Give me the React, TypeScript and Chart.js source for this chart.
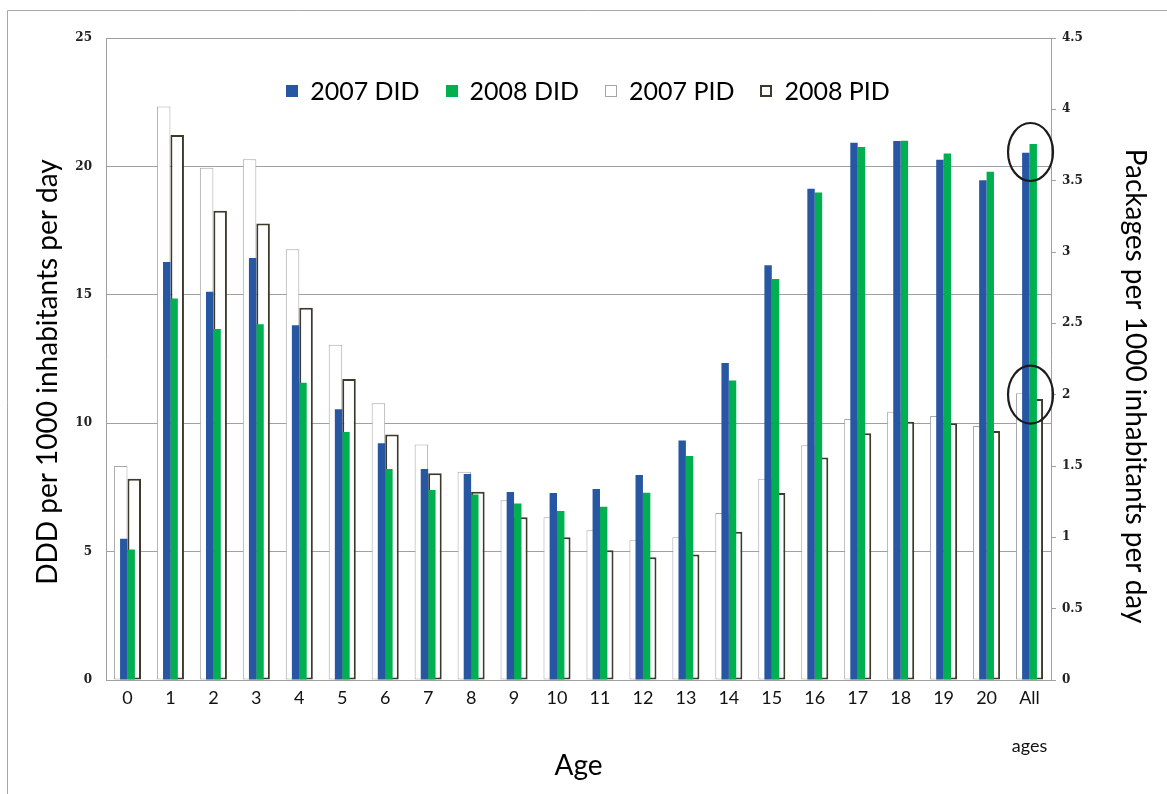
import React, { useEffect, useRef } from 'react';
import { Chart, registerables } from 'chart.js';

Chart.register(...registerables);

// Age groups on the category axis ("All ages" wraps onto a lower line)
const ageLabels: (string | string[])[] = [
  '0', '1', '2', '3', '4', '5', '6', '7', '8', '9', '10',
  '11', '12', '13', '14', '15', '16', '17', '18', '19', '20',
  ['All', '', 'ages'],
];

// DDD per 1000 inhabitants per day (left axis)
const did2007 = [
  5.50, 16.28, 15.12, 16.43, 13.81, 10.54, 9.22, 8.22, 8.02, 7.32, 7.28,
  7.44, 7.98, 9.33, 12.34, 16.15, 19.13, 20.92, 20.99, 20.26, 19.46, 20.53,
];
const did2008 = [
  5.08, 14.86, 13.67, 13.85, 11.58, 9.66, 8.22, 7.40, 7.22, 6.87, 6.58,
  6.75, 7.29, 8.72, 11.66, 15.62, 18.98, 20.76, 21.00, 20.50, 19.79, 20.87,
];

// Packages per 1000 inhabitants per day (right axis)
const pid2007 = [
  1.50, 4.02, 3.59, 3.65, 3.02, 2.35, 1.94, 1.65, 1.46, 1.26, 1.14,
  1.05, 0.98, 1.00, 1.17, 1.41, 1.645, 1.83, 1.88, 1.85, 1.78, 2.01,
];
const pid2008 = [
  1.41, 3.82, 3.29, 3.20, 2.61, 2.11, 1.72, 1.45, 1.32, 1.14, 1.00,
  0.91, 0.86, 0.88, 1.04, 1.31, 1.56, 1.73, 1.81, 1.80, 1.745, 1.97,
];

// Axis ranges
const dddMax = 25;
const dddStep = 5;
const pidMax = 4.5;
const pidStep = 0.5;

// Highlight rings around the "All ages" bars: [category index, value]
const ringOnDDD: [number, number] = [21, 20.56];
const ringOnPID: [number, number] = [21, 2.0];

const leftTitle = 'DDD per 1000 inhabitants per day';
const rightTitle = 'Packages per 1000 inhabitants per day';

const WIDTH = 1167;
const HEIGHT = 794;
const PLOT_LEFT = 106;
const PLOT_RIGHT = 1051;
const PLOT_TOP = 38;
const PLOT_BOTTOM = 680;

const BLUE = '#2756a2';
const GREEN = '#00b050';
const LIGHT_EDGE = '#a6a6a6';
const DARK_EDGE = '#3d3a2b';
const AXIS_GREY = '#a0a0a0';
const SANS = 'Lato, "Open Sans", "DejaVu Sans", sans-serif';
const SERIF = '"DejaVu Serif", "Liberation Serif", serif';

const framePlugin = {
  id: 'outerFrame',
  beforeDraw(chart: any) {
    const ctx = chart.ctx;
    ctx.save();
    ctx.fillStyle = '#ffffff';
    ctx.fillRect(0, 0, chart.width, chart.height);
    ctx.strokeStyle = '#a8a8a8';
    ctx.lineWidth = 1;
    ctx.beginPath();
    ctx.moveTo(7.5, chart.height);
    ctx.lineTo(7.5, 10.5);
    ctx.lineTo(chart.width, 10.5);
    ctx.stroke();
    ctx.restore();
  },
};

// Rotated value-axis titles on both sides
const sideTitlesPlugin = {
  id: 'sideTitles',
  afterDraw(chart: any) {
    const ctx = chart.ctx;
    ctx.save();
    ctx.fillStyle = '#000000';
    ctx.font = `28px ${SANS}`;
    ctx.textAlign = 'center';
    ctx.textBaseline = 'middle';

    ctx.save();
    ctx.translate(48, 372);
    ctx.rotate(-Math.PI / 2);
    ctx.fillText(leftTitle, 0, 0);
    ctx.restore();

    ctx.save();
    ctx.translate(1135, 386);
    ctx.rotate(Math.PI / 2);
    ctx.fillText(rightTitle, 0, 0);
    ctx.restore();

    ctx.restore();
  },
};

const insideLegendPlugin = {
  id: 'insideLegend',
  afterDraw(chart: any) {
    const ctx = chart.ctx;
    const box = 12;
    const textGap = 12;
    const itemGap = 26;
    const centerX = 588;
    const centerY = 91;
    ctx.save();
    ctx.font = `25px ${SANS}`;
    ctx.textBaseline = 'middle';
    ctx.textAlign = 'left';
    const items = chart.data.datasets.map((ds: any) => ({
      ds,
      w: ctx.measureText(ds.label).width,
    }));
    const total =
      items.reduce((s: number, it: any) => s + box + textGap + it.w, 0) +
      itemGap * (items.length - 1);
    let x = centerX - total / 2;
    for (const it of items) {
      const top = Math.round(centerY - box / 2);
      const left = Math.round(x);
      ctx.fillStyle = it.ds.backgroundColor;
      ctx.fillRect(left, top, box, box);
      if (it.ds.borderWidth) {
        const bw = it.ds.borderWidth;
        ctx.strokeStyle = it.ds.borderColor;
        ctx.lineWidth = bw;
        ctx.strokeRect(left + bw / 2, top + bw / 2, box - bw, box - bw);
      }
      ctx.fillStyle = '#000000';
      ctx.fillText(it.ds.label, x + box + textGap, centerY + 1);
      x += box + textGap + it.w + itemGap;
    }
    ctx.restore();
  },
};

const ringsPlugin = {
  id: 'highlightRings',
  afterDatasetsDraw(chart: any) {
    const ctx = chart.ctx;
    const xs = chart.scales.x;
    const rings = [
      { x: xs.getPixelForValue(ringOnDDD[0]), y: chart.scales.y.getPixelForValue(ringOnDDD[1]) },
      { x: xs.getPixelForValue(ringOnPID[0]), y: chart.scales.y2.getPixelForValue(ringOnPID[1]) },
    ];
    ctx.save();
    ctx.strokeStyle = '#1c1c1c';
    ctx.lineWidth = 2.2;
    for (const r of rings) {
      ctx.beginPath();
      ctx.ellipse(r.x + 1, r.y, 22.5, 29, 0, 0, Math.PI * 2);
      ctx.stroke();
    }
    ctx.restore();
  },
};

export default function App() {
  const canvasRef = useRef<HTMLCanvasElement | null>(null);

  useEffect(() => {
    let chart: Chart | null = null;
    let cancelled = false;

    const build = () => {
      if (cancelled || !canvasRef.current) return;
      // Slot "a" holds the 2007 bars and slot "b" the 2008 bars; the narrow
      // DDD bars sit over the wider, outlined package bars in each slot.
      chart = new Chart(canvasRef.current, {
        type: 'bar',
        data: {
          labels: ageLabels,
          datasets: [
            {
              label: '2007 DID',
              data: did2007,
              backgroundColor: BLUE,
              borderWidth: 0,
              stack: 'a',
              yAxisID: 'y',
              categoryPercentage: 0.345,
              barPercentage: 1,
            },
            {
              label: '2008 DID',
              data: did2008,
              backgroundColor: GREEN,
              borderWidth: 0,
              stack: 'b',
              yAxisID: 'y',
              categoryPercentage: 0.345,
              barPercentage: 1,
            },
            {
              label: '2007 PID',
              data: pid2007,
              backgroundColor: '#ffffff',
              borderColor: LIGHT_EDGE,
              borderWidth: 1,
              borderSkipped: false,
              stack: 'a',
              yAxisID: 'y2',
              categoryPercentage: 0.63,
              barPercentage: 1,
            },
            {
              label: '2008 PID',
              data: pid2008,
              backgroundColor: '#ffffff',
              borderColor: DARK_EDGE,
              borderWidth: 2,
              borderSkipped: false,
              stack: 'b',
              yAxisID: 'y2',
              categoryPercentage: 0.63,
              barPercentage: 1,
            },
          ] as any,
        },
        options: {
          responsive: false,
          animation: false,
          devicePixelRatio: 1,
          events: [],
          layout: { padding: { top: PLOT_TOP, left: 0, right: 0, bottom: 0 } },
          plugins: {
            legend: { display: false },
            tooltip: { enabled: false },
          },
          scales: {
            x: {
              type: 'category',
              position: 'bottom',
              offset: true,
              grid: { display: false, drawTicks: false, tickLength: 0 },
              border: { display: true, color: AXIS_GREY, width: 1 },
              ticks: {
                autoSkip: false,
                maxRotation: 0,
                minRotation: 0,
                padding: 6,
                color: '#111111',
                font: { family: SANS, size: 18, lineHeight: 24 / 18 },
              },
              title: {
                display: true,
                text: 'Age',
                color: '#000000',
                font: { family: SANS, size: 28 },
                padding: { top: 0, bottom: 11 },
              },
              afterFit(scale: any) {
                scale.height = HEIGHT - PLOT_BOTTOM;
              },
            },
            y: {
              type: 'linear',
              position: 'left',
              stacked: false,
              min: 0,
              max: dddMax,
              grid: { color: AXIS_GREY, lineWidth: 1, drawTicks: false },
              border: { display: true, color: AXIS_GREY, width: 1 },
              ticks: {
                stepSize: dddStep,
                padding: 14,
                color: '#222222',
                font: { family: SERIF, size: 12, weight: 'bold' },
              },
              afterFit(scale: any) {
                scale.width = PLOT_LEFT;
              },
            },
            y2: {
              type: 'linear',
              position: 'right',
              stacked: false,
              min: 0,
              max: pidMax,
              grid: {
                drawOnChartArea: false,
                drawTicks: true,
                tickLength: 5,
                color: AXIS_GREY,
              },
              border: { display: true, color: AXIS_GREY, width: 1 },
              ticks: {
                stepSize: pidStep,
                padding: 6,
                color: '#222222',
                font: { family: SERIF, size: 12, weight: 'bold' },
                callback: (value: any) => String(Number(value)),
              },
              afterFit(scale: any) {
                scale.width = WIDTH - PLOT_RIGHT;
              },
            },
          },
        } as any,
        plugins: [framePlugin, insideLegendPlugin, ringsPlugin, sideTitlesPlugin],
      });
    };

    const fontsReady = (document as any).fonts
      ? Promise.all([
          (document as any).fonts.load(`24px Lato`),
          (document as any).fonts.load(`bold 12px "DejaVu Serif"`),
        ]).catch(() => null)
      : Promise.resolve(null);
    fontsReady.then(build);

    return () => {
      cancelled = true;
      if (chart) chart.destroy();
    };
  }, []);

  return (
    <div style={{ position: 'fixed', left: 0, top: 0, width: WIDTH, height: HEIGHT, background: '#ffffff' }}>
      <canvas
        ref={canvasRef}
        width={WIDTH}
        height={HEIGHT}
        style={{ width: WIDTH, height: HEIGHT, display: 'block' }}
      />
    </div>
  );
}
